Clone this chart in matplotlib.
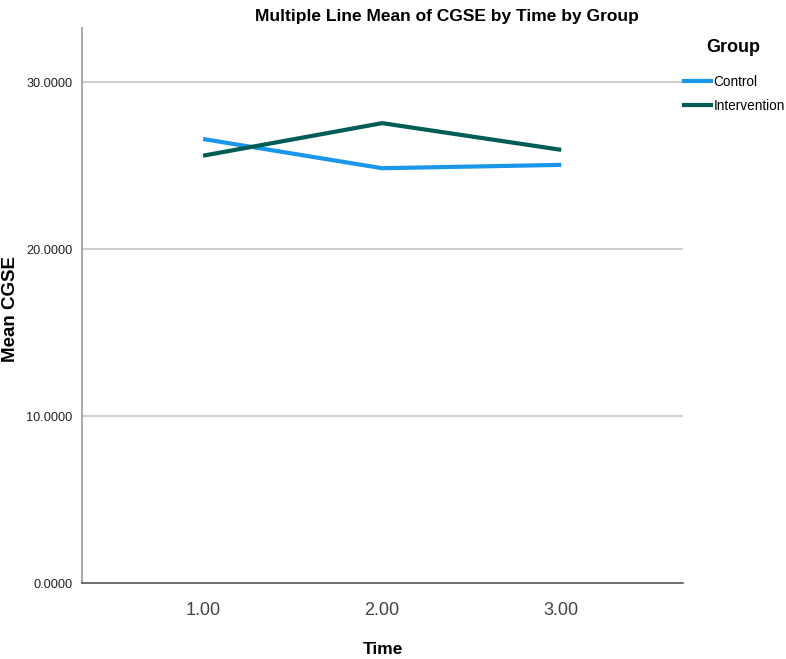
import matplotlib
matplotlib.use("Agg")
import matplotlib.pyplot as plt
from matplotlib import font_manager
from matplotlib.lines import Line2D

names = {f.name for f in font_manager.fontManager.ttflist}
NARROW = "Liberation Sans Narrow" if "Liberation Sans Narrow" in names else "Liberation Sans"
REG = "Liberation Sans" if "Liberation Sans" in names else "DejaVu Sans"

time_vals = [1.00, 2.00, 3.00]
time_labels = ["1.00", "2.00", "3.00"]
groups = ["Control", "Intervention"]
control = [26.6, 24.85, 25.05]
intervention = [25.6, 27.55, 25.95]
colors = ["#1a96ea", "#005d55"]
yticks = [0, 10, 20, 30]

fig = plt.figure(figsize=(7.86, 6.59), dpi=100)
ax = fig.add_axes([82/786, 1-583/659, (683-82)/786, (583-28)/659])

for vals, c, g in zip([control, intervention], colors, groups):
    ax.plot(time_vals, vals, color=c, lw=3.0, label=g, solid_capstyle="butt")

ax.set_xlim(0.324, 3.68)
ax.set_ylim(0, 33.25)
ax.set_yticks(yticks)
ax.set_yticklabels([f"{v:.4f}" for v in yticks], fontfamily=NARROW, fontsize=9.2, color="#222222")
ax.set_xticks(time_vals)
ax.set_xticklabels(time_labels, fontfamily=NARROW, fontsize=13, color="#444444")
ax.tick_params(axis="both", length=0)
ax.tick_params(axis="y", pad=7)
ax.tick_params(axis="x", pad=14)
for v in yticks[1:]:
    ax.axhline(v, color="#cfcfcf", lw=1.5, zorder=0)

for s in ["top", "right"]:
    ax.spines[s].set_visible(False)
ax.spines["left"].set_color("#9a9a9a")
ax.spines["left"].set_linewidth(1.2)
ax.spines["bottom"].set_color("#555555")
ax.spines["bottom"].set_linewidth(1.2)

ax.set_ylabel("Mean CGSE", fontfamily=REG, fontweight="bold", fontsize=13.5, va="center")
ax.yaxis.set_label_coords((10.5-82)/601, (583-309)/555)
ax.set_xlabel("Time", fontfamily=REG, fontweight="bold", fontsize=12.5, va="center")
ax.xaxis.set_label_coords(0.5, -(650-583)/555)

fig.text(447/786, 1-16/659, "Multiple Line Mean of CGSE by Time by Group",
         ha="center", va="center", fontfamily=NARROW, fontweight="bold", fontsize=12.5)

fig.text(733/786, 1-48/659, "Group", ha="center", va="center",
         fontfamily=NARROW, fontweight="bold", fontsize=13)
handles = [Line2D([0], [0], color=c, lw=3.0) for c in colors]
leg = fig.legend(handles, groups, loc="upper left", bbox_to_anchor=(684/786, 1-75/659),
                 frameon=False, prop={"family": NARROW, "size": 9.8},
                 handlelength=2.0, handletextpad=0.15, labelspacing=0.72, borderpad=0, borderaxespad=0)

fig.savefig("out.png", dpi=100, facecolor="white")
